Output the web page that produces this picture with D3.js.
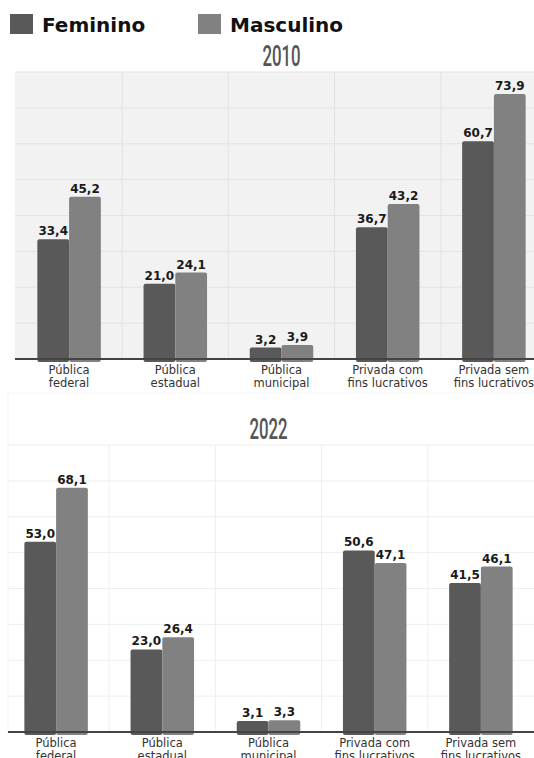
<!DOCTYPE html>
<html>
<head>
<meta charset="utf-8">
<script src="https://cdn.jsdelivr.net/npm/d3@7"></script>
<style>
  body { margin: 0; background: #fff; }
  svg { display: block; }
</style>
</head>
<body>
<svg id="chart"></svg>
<script>
const categories = [
  ["Pública", "federal"],
  ["Pública", "estadual"],
  ["Pública", "municipal"],
  ["Privada com", "fins lucrativos"],
  ["Privada sem", "fins lucrativos"]
];
const series = ["Feminino", "Masculino"];
const feminino2010 = [33.4, 21.0, 3.2, 36.7, 60.7];
const masculino2010 = [45.2, 24.1, 3.9, 43.2, 73.9];
const feminino2022 = [53.0, 23.0, 3.1, 50.6, 41.5];
const masculino2022 = [68.1, 26.4, 3.3, 47.1, 46.1];
const yTicks = [0, 10, 20, 30, 40, 50, 60, 70, 80];

const width = 534, height = 758;
const color = {"Feminino": "#595959", "Masculino": "#818181"};
const fmt = v => d3.format(".1f")(v).replace(".", ",");

const svg = d3.select("#chart")
    .attr("width", width)
    .attr("height", height)
    .attr("viewBox", `0 0 ${width} ${height}`);

// Legend
const legendX = {"Feminino": 10, "Masculino": 198};
for (const s of series) {
  svg.append("rect")
      .attr("x", legendX[s]).attr("y", 14)
      .attr("width", 23).attr("height", 20)
      .attr("fill", color[s]);
  svg.append("text")
      .attr("x", legendX[s] + 32).attr("y", 32)
      .attr("font-family", "DejaVu Sans")
      .attr("font-weight", "bold")
      .attr("font-size", 20)
      .attr("fill", "#111")
      .text(s);
}

function drawPanel(p) {
  const keys = categories.map(c => c.join(" "));
  const rows = keys.map((k, i) => ({key: k, label: categories[i], Feminino: p.fem[i], Masculino: p.masc[i]}));

  const x = d3.scaleBand().domain(keys).range([p.x0, p.x1]);
  const bw = x.bandwidth();
  const barW = 31.75;
  const sub = d3.scaleBand().domain(series).range([0, bw])
      .paddingInner(0).paddingOuter((bw / barW - 2) / 2);
  const y = d3.scaleLinear().domain([0, 80]).range([p.base, p.top]);

  const g = svg.append("g");

  // background / frame
  if (p.bg) {
    g.append("rect")
        .attr("x", p.bgLeft).attr("y", y(80))
        .attr("width", width - p.bgLeft).attr("height", y(0) - y(80))
        .attr("fill", p.bg);
  }
  if (p.frameTop) {
    g.append("line")
        .attr("x1", p.bgLeft).attr("x2", width)
        .attr("y1", p.frameTop).attr("y2", p.frameTop)
        .attr("stroke", "#f4f4f4");
    g.append("line")
        .attr("x1", p.bgLeft).attr("x2", p.bgLeft)
        .attr("y1", p.frameTop).attr("y2", y(0))
        .attr("stroke", "#f4f4f4");
  }

  // horizontal grid
  g.append("g")
      .selectAll("line")
      .data(yTicks.slice(1))
      .join("line")
      .attr("x1", p.bgLeft).attr("x2", width)
      .attr("y1", d => y(d)).attr("y2", d => y(d))
      .attr("stroke", p.grid);

  // vertical grid at band boundaries
  g.append("g")
      .selectAll("line")
      .data(keys.slice(1))
      .join("line")
      .attr("x1", d => x(d)).attr("x2", d => x(d))
      .attr("y1", y(80)).attr("y2", y(0))
      .attr("stroke", p.grid);

  // title
  g.append("text")
      .attr("transform", `translate(${(p.x0 + p.x1) / 2},${y(80) - 6}) scale(0.56,1)`)
      .attr("text-anchor", "middle")
      .attr("font-family", "Roboto")
      .attr("font-weight", 500)
      .attr("font-size", 30)
      .attr("fill", "#555")
      .text(p.title);

  // bars
  for (const s of series) {
    g.append("g")
        .attr("fill", color[s])
        .selectAll("rect")
        .data(rows)
        .join("rect")
        .attr("x", d => x(d.key) + sub(s))
        .attr("width", sub.bandwidth())
        .attr("y", d => y(d[s]))
        .attr("height", d => y(0) - y(d[s]) + 3)
        .attr("rx", 2);

    g.append("g")
        .selectAll("text")
        .data(rows)
        .join("text")
        .attr("x", d => x(d.key) + sub(s) + sub.bandwidth() / 2)
        .attr("y", d => y(d[s]) - 4)
        .attr("text-anchor", "middle")
        .attr("font-family", "DejaVu Sans")
        .attr("font-weight", "bold")
        .attr("font-size", 12)
        .attr("fill", "#1a1a1a")
        .text(d => fmt(d[s]));
  }

  // baseline
  g.append("line")
      .attr("x1", p.bgLeft).attr("x2", width)
      .attr("y1", y(0)).attr("y2", y(0))
      .attr("stroke", "#444")
      .attr("stroke-width", 2);

  // category labels
  const lab = g.append("g")
      .selectAll("text")
      .data(rows)
      .join("text")
      .attr("x", d => x(d.key) + bw / 2)
      .attr("y", y(0) + 15)
      .attr("text-anchor", "middle")
      .attr("font-family", "DejaVu Sans")
      .attr("font-size", 11.5)
      .attr("fill", "#333");
  lab.selectAll("tspan")
      .data(d => d.label)
      .join("tspan")
      .attr("x", function() { return d3.select(this.parentNode).attr("x"); })
      .attr("dy", (d, i) => i === 0 ? 0 : 12.5)
      .text(d => d);
}

drawPanel({
  title: "2010", fem: feminino2010, masc: masculino2010,
  x0: 16, x1: 547, top: 72, base: 359,
  bg: "#f2f2f2", bgLeft: 15, grid: "#e3e3e3"
});

drawPanel({
  title: "2022", fem: feminino2022, masc: masculino2022,
  x0: 3, x1: 534, top: 445, base: 732,
  bg: null, bgLeft: 8, grid: "#eeeeee", frameTop: 393
});
</script>
</body>
</html>
